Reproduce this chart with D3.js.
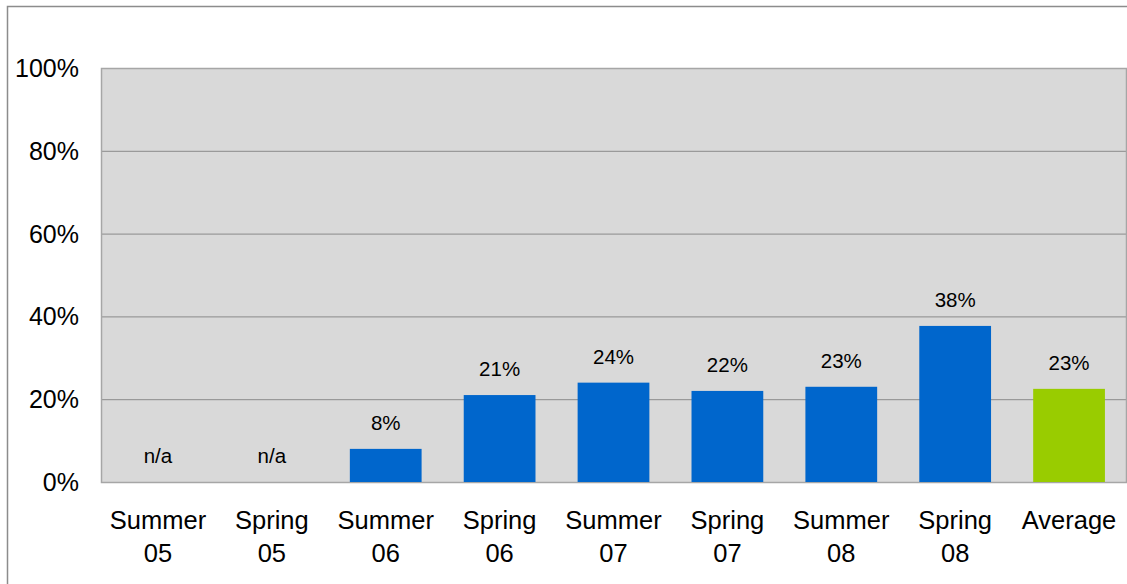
<!DOCTYPE html>
<html>
<head>
<meta charset="utf-8">
<script src="https://cdnjs.cloudflare.com/ajax/libs/d3/7.8.5/d3.min.js"></script>
<style>
  body { margin: 0; background: #fff; }
  text { font-family: "Liberation Sans", Arial, sans-serif; fill: #000; }
</style>
</head>
<body>
<div id="chart"></div>
<script>
// Data
var categories = [["Summer", "05"], ["Spring", "05"], ["Summer", "06"], ["Spring", "06"],
                  ["Summer", "07"], ["Spring", "07"], ["Summer", "08"], ["Spring", "08"], ["Average"]];
var values = [null, null, 8, 21, 24, 22, 23, 37.7, 22.5];
var valueLabels = ["n/a", "n/a", "8%", "21%", "24%", "22%", "23%", "38%", "23%"];
var barColors = ["#0066cc", "#0066cc", "#0066cc", "#0066cc", "#0066cc", "#0066cc", "#0066cc", "#0066cc", "#99cc00"];
var yTicks = [0, 20, 40, 60, 80, 100];

var width = 1127, height = 584;
var margin = {top: 68, right: 1, bottom: 102, left: 101};
var w = width - margin.left - margin.right,
    h = height - margin.top - margin.bottom;

var svg = d3.select("#chart").append("svg")
  .attr("width", width)
  .attr("height", height);

// outer frame
svg.append("rect")
  .attr("x", 7.5).attr("y", 6.5)
  .attr("width", width).attr("height", height)
  .attr("fill", "none").attr("stroke", "#8c8c8c").attr("stroke-width", 1.5);

var g = svg.append("g")
  .attr("transform", "translate(" + margin.left + "," + margin.top + ")");

var x = d3.scaleBand()
  .domain(d3.range(categories.length))
  .range([0, w])
  .paddingInner(0.37)
  .paddingOuter(0.185);

var y = d3.scaleLinear().domain([0, 100]).range([h, 0]);

// plot background
g.append("rect")
  .attr("width", w).attr("height", h)
  .attr("fill", "#d9d9d9");

// gridlines
g.selectAll(".grid").data(yTicks.slice(1, -1)).enter()
  .append("line")
  .attr("x1", 0).attr("x2", w)
  .attr("y1", function(d){ return y(d) + 0.5; })
  .attr("y2", function(d){ return y(d) + 0.5; })
  .attr("stroke", "#8a8a8a").attr("stroke-width", 1);

g.append("rect")
  .attr("x", 0.5).attr("y", 0.5)
  .attr("width", w).attr("height", h)
  .attr("fill", "none").attr("stroke", "#a6a6a6").attr("stroke-width", 1.5);

// bars
values.forEach(function(v, i){
  if (v === null) return;
  g.append("rect")
    .attr("class", "bar")
    .attr("x", x(i))
    .attr("width", x.bandwidth())
    .attr("y", y(v))
    .attr("height", h - y(v))
    .attr("fill", barColors[i]);
});

// value labels
g.selectAll(".vlabel").data(valueLabels).enter()
  .append("text")
  .attr("x", function(d, i){ return x(i) + x.bandwidth() / 2; })
  .attr("y", function(d, i){ return y(values[i] || 0) - 19; })
  .attr("text-anchor", "middle")
  .style("font-size", "20.5px")
  .text(function(d){ return d; });

// y axis labels
g.selectAll(".ytick").data(yTicks).enter()
  .append("text")
  .attr("x", -22)
  .attr("y", function(d){ return y(d) + 9; })
  .attr("text-anchor", "end")
  .style("font-size", "25px")
  .text(function(d){ return d + "%"; });

// x axis labels
var xl = g.selectAll(".xtick").data(categories).enter()
  .append("text")
  .attr("text-anchor", "middle")
  .attr("transform", function(d, i){ return "translate(" + (x(i) + x.bandwidth() / 2) + "," + (h + 47) + ")"; })
  .style("font-size", "25.5px");
xl.selectAll("tspan").data(function(d){ return d; }).enter()
  .append("tspan")
  .attr("x", 0)
  .attr("dy", function(d, i){ return i === 0 ? 0 : 33; })
  .text(function(d){ return d; });
</script>
</body>
</html>
